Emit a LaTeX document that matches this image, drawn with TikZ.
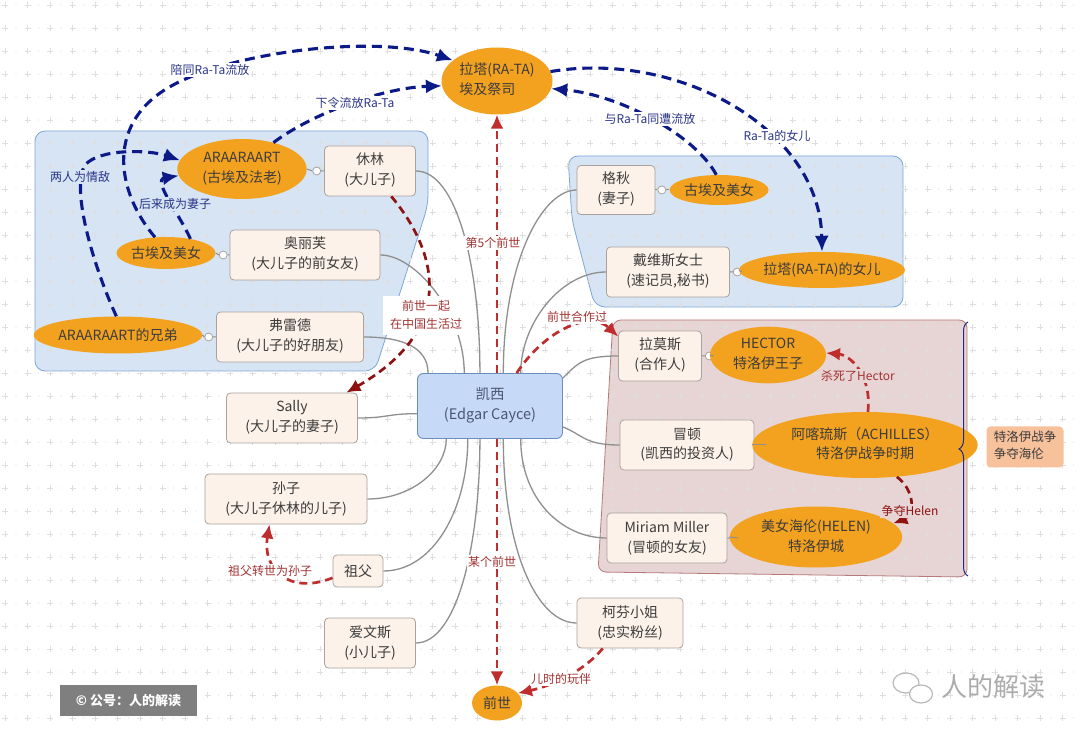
\documentclass[tikz,border=0pt]{standalone}
\usepackage{fontspec}
\setmainfont{Noto Sans CJK SC}
\usepackage{xcolor}
\usetikzlibrary{shapes,positioning,arrows.meta,decorations.pathreplacing}

\definecolor{ovalc}{HTML}{F3A21F}
\definecolor{topicfill}{HTML}{FDF2E9}
\definecolor{topicline}{HTML}{A9A29D}
\definecolor{nodetext}{HTML}{3C3C3C}
\definecolor{centerfill}{HTML}{C6DAF7}
\definecolor{centerline}{HTML}{6C8EBF}
\definecolor{centertext}{HTML}{4A5670}
\definecolor{bluegrp}{HTML}{D6E4F4}
\definecolor{bluegrpline}{HTML}{7EA6D6}
\definecolor{redgrp}{HTML}{E7D4D4}
\definecolor{redgrpline}{HTML}{B77A7A}
\definecolor{navyc}{HTML}{0C1A88}
\definecolor{navytxt}{HTML}{2B3487}
\definecolor{redc}{HTML}{BE2E2E}
\definecolor{darkredc}{HTML}{8E1212}
\definecolor{redtxt}{HTML}{A33232}
\definecolor{branchc}{HTML}{8F8F8F}
\definecolor{gridc}{HTML}{DEDEDE}
\definecolor{summaryc}{HTML}{F7C19B}
\definecolor{markc}{HTML}{7F7F7F}
\definecolor{bracec}{HTML}{1F2A8A}

\begin{document}
\begin{tikzpicture}[x=1pt, y=-1pt,
    every node/.style={text=nodetext},
    topic/.style={rectangle, draw=topicline, line width=0.8pt, fill=topicfill, rounded corners=4pt, inner sep=0pt, minimum height=50pt, font=\fontsize{14}{20}\selectfont},
    oval/.style={ellipse, fill=ovalc, inner sep=0pt, font=\fontsize{14}{20}\selectfont},
    knob/.style={circle, draw=topicline, fill=white, line width=0.8pt, minimum size=8pt, inner sep=0pt},
    branch/.style={draw=branchc, line width=1.3pt},
    knobline/.style={draw=branchc, line width=1pt},
    navyrel/.style={draw=navyc, line width=3.1pt, dash pattern=on 10pt off 6pt, -{Latex[length=16pt,width=14pt]}},
    redrel/.style={draw=redc, line width=2.7pt, dash pattern=on 8pt off 5pt, -{Latex[length=14pt,width=13pt]}},
    darkrel/.style={redrel, draw=darkredc},
    bluelbl/.style={text=navytxt, font=\fontsize{12}{18}\selectfont, fill=white, inner sep=1.5pt},
    redlbl/.style={text=redtxt, font=\fontsize{12}{18}\selectfont, fill=white, inner sep=1.5pt},
]
    \useasboundingbox (0,0) rectangle (1080,735);
    \fill[white] (0,0) rectangle (1080,735);

    \filldraw[fill=bluegrp, draw=bluegrpline, line width=0.8pt, rounded corners=10pt] (35,131) -- (428,131) -- (428,205) -- (375,371) -- (35,371) -- cycle;
    \filldraw[fill=bluegrp, draw=bluegrpline, line width=0.8pt, rounded corners=10pt] (568,156) -- (903,156) -- (903,307) -- (595,307) -- (572,220) -- cycle;
    \filldraw[fill=redgrp, draw=redgrpline, line width=0.8pt, rounded corners=8pt] (613,320) -- (967,320) -- (967,577) -- (598,572) -- cycle;

    \foreach \gx in {0,...,48} \foreach \gy in {0,...,32} {
        \draw[gridc, line width=0.6pt] (\gx*22.5+5,\gy*23+5) +(-3,0) -- +(3,0) +(0,-3) -- +(0,3);
        \fill[gridc] (\gx*22.5+16,\gy*23+5) circle (0.7);
    }

    \node[oval, minimum width=111pt, minimum height=67pt] (rata) at (497,81) {\begin{tabular}{@{}l@{}}拉塔(RA-TA)\\ 埃及祭司\end{tabular}};

    \node[oval, minimum width=124pt, minimum height=60pt] (araa) at (242,169) {\begin{tabular}{c}ARAARAART\\ (古埃及法老)\end{tabular}};
    \node[topic, minimum width=91pt] (xiulin) at (370,171) {\begin{tabular}{c}休林\\ (大儿子)\end{tabular}};
    \node[knob, left=3pt of xiulin] (k1) {};
    \node[oval, minimum width=92pt, minimum height=32pt] (beautyL) at (166,253) {古埃及美女};
    \node[topic, minimum width=150pt] (aolifu) at (305,255) {\begin{tabular}{c}奥丽芙\\ (大儿子的前女友)\end{tabular}};
    \node[knob, left=2pt of aolifu] (k2) {};
    \node[oval, minimum width=153pt, minimum height=37pt] (brother) at (118,335) {ARAARAART的兄弟};
    \node[topic, minimum width=147pt] (fred) at (290,337) {\begin{tabular}{c}弗雷德\\ (大儿子的好朋友)\end{tabular}};
    \node[knob, left=3pt of fred] (k3) {};

    \node[topic, minimum width=131pt] (sally) at (292,418) {\begin{tabular}{c}Sally\\ (大儿子的妻子)\end{tabular}};
    \node[topic, minimum width=162pt] (sunzi) at (286,499) {\begin{tabular}{c}孙子\\ (大儿子休林的儿子)\end{tabular}};
    \node[topic, minimum width=50pt, minimum height=32pt] (zufu) at (358,571) {祖父};
    \node[topic, minimum width=91pt] (aiwensi) at (370,643) {\begin{tabular}{c}爱文斯\\ (小儿子)\end{tabular}};

    \node[rectangle, rounded corners=6pt, draw=centerline, fill=centerfill, line width=0.9pt, minimum width=145pt, minimum height=65pt, font=\fontsize{14.5}{20}\selectfont, text=centertext] (cayce) at (490,406) {\begin{tabular}{c}凯西\\ (Edgar Cayce)\end{tabular}};
    \node[oval, minimum width=50pt, minimum height=35pt] (qianshi) at (497,703) {前世};
    \node[topic, minimum width=106pt] (kefen) at (630,623) {\begin{tabular}{c}柯芬小姐\\ (忠实粉丝)\end{tabular}};

    \node[topic, minimum width=78pt, minimum height=49pt] (gechiu) at (616,190) {\begin{tabular}{c}格秋\\ (妻子)\end{tabular}};
    \node[knob, right=2pt of gechiu] (k4) {};
    \node[oval, minimum width=88pt, minimum height=30pt] (beautyR) at (719,190) {古埃及美女};
    \node[topic, minimum width=123pt] (davis) at (668,272) {\begin{tabular}{c}戴维斯女士\\ (速记员,秘书)\end{tabular}};
    \node[knob, right=3pt of davis] (k5) {};
    \node[oval, minimum width=144pt, minimum height=36pt] (daughter) at (822,270) {拉塔(RA-TA)的女儿};

    \node[topic, minimum width=83pt] (lamos) at (660,356) {\begin{tabular}{c}拉莫斯\\ (合作人)\end{tabular}};
    \node[knob, right=3pt of lamos] (k6) {};
    \node[oval, minimum width=92pt, minimum height=54pt] (hector) at (768,355) {\begin{tabular}{c}HECTOR\\ 特洛伊王子\end{tabular}};
    \node[topic, minimum width=134pt] (maodun) at (687,445) {\begin{tabular}{c}冒顿\\ (凯西的投资人)\end{tabular}};
    \node[knob, right=3pt of maodun] (k7) {};
    \node[oval, minimum width=184pt, minimum height=66pt] (achilles) at (865,445) {\begin{tabular}{c}阿喀琉斯（ACHILLES）\\ 特洛伊战争时期\end{tabular}};
    \node[topic, minimum width=120pt] (miriam) at (667,538) {\begin{tabular}{c}Miriam Miller\\ (冒顿的女友)\end{tabular}};
    \node[knob, right=2pt of miriam] (k8) {};
    \node[oval, minimum width=141pt, minimum height=61pt] (helen) at (816,537) {\begin{tabular}{c}美女海伦(HELEN)\\ 特洛伊城\end{tabular}};

    \node[rectangle, rounded corners=4pt, fill=summaryc, minimum width=77pt, minimum height=41pt, inner sep=0pt, font=\fontsize{12.5}{17}\selectfont] (summary) at (1025,447) {\begin{tabular}{@{}l@{}}特洛伊战争\\ 争夺海伦\end{tabular}};
    \coordinate (bracetop) at (968,322);
    \coordinate (bracebot) at (968,576);
    \draw[bracec, line width=1pt, decorate, decoration={brace, mirror, amplitude=9pt}] (bracetop) -- (bracebot);

    \draw[knobline] (araa.east) -- (k1.west) (k1.east) -- (xiulin.west);
    \draw[knobline] (beautyL.east) -- (k2.west) (k2.east) -- (aolifu.west);
    \draw[knobline] (brother.east) -- (k3.west) (k3.east) -- (fred.west);
    \draw[knobline] (gechiu.east) -- (k4.west) (k4.east) -- (beautyR.west);
    \draw[knobline] (davis.east) -- (k5.west) (k5.east) -- (daughter.west);
    \draw[knobline] (lamos.east) -- (k6.west) (k6.east) -- (hector.west);
    \draw[knobline] (maodun.east) -- (k7.west) (k7.east) -- (achilles.west);
    \draw[knobline] (miriam.east) -- (k8.west) (k8.east) -- (helen.west);

    \draw[branch] (xiulin.east) .. controls +(40,0) and +(0,-110) .. (cayce.107);
    \draw[branch] (aolifu.east) .. controls +(35,0) and +(0,-60) .. (cayce.128);
    \draw[branch] (fred.east) .. controls +(40,0) and +(0,-25) .. (cayce.152);
    \draw[branch] (sally.east) .. controls +(30,0) and +(-30,0) .. (cayce.186);
    \draw[branch] (sunzi.east) .. controls +(45,0) and +(0,30) .. (cayce.217);
    \draw[branch] (zufu.east) .. controls +(50,0) and +(0,70) .. (cayce.236);
    \draw[branch] (aiwensi.east) .. controls +(40,0) and +(0,110) .. (cayce.253);
    \draw[branch] (gechiu.west) .. controls +(-35,0) and +(0,-110) .. (cayce.68);
    \draw[branch] (davis.west) .. controls +(-45,0) and +(0,-50) .. (cayce.47);
    \draw[branch] (lamos.west) .. controls +(-35,0) and +(15,-15) .. (cayce.21);
    \draw[branch] (maodun.west) .. controls +(-35,0) and +(20,8) .. (cayce.-16);
    \draw[branch] (miriam.west) .. controls +(-45,0) and +(0,60) .. (cayce.-47);
    \draw[branch] (kefen.west) .. controls +(-40,0) and +(0,110) .. (cayce.-68);

    \draw[navyrel] (beautyL.125) .. controls (115,190) and (105,120) .. (175,84) .. controls (240,50) and (380,35) .. (rata.155);
    \draw[navyrel] (araa.40) .. controls (310,115) and (380,88) .. (rata.185);
    \draw[navyrel] (brother.95) .. controls (95,270) and (70,190) .. (85,165) .. controls (100,148) and (150,150) .. (araa.172);
    \draw[navyrel] (beautyL.30) .. controls (180,215) and (152,180) .. (araa.186);
    \draw[navyrel] (beautyR.100) .. controls (695,135) and (620,95) .. (rata.-8);
    \draw[navyrel] (rata.10) .. controls (680,50) and (820,130) .. (daughter.north);

    \draw[redrel] (rata.south |- cayce.north) -- (rata.south);
    \draw[redrel] (qianshi.north |- cayce.south) -- (qianshi.north);
    \draw[darkrel] (xiulin.-50) .. controls (440,255) and (455,330) .. (sally.25);
    \draw[redrel] (cayce.51) .. controls (545,330) and (590,310) .. (lamos.155);
    \draw[redrel] (zufu.195) .. controls (290,595) and (262,570) .. (sunzi.237);
    \draw[redrel] (kefen.223) .. controls (585,670) and (555,685) .. (qianshi.25);
    \draw[redrel] (achilles.85) .. controls (872,375) and (850,355) .. (hector.2);
    \draw[darkrel] (achilles.-45) .. controls (915,490) and (915,515) .. (helen.10);

    \node[bluelbl] (lblwith) at (210,70) {陪同Ra-Ta流放};
    \node[bluelbl] (lblorder) at (355,103) {下令流放Ra-Ta};
    \node[bluelbl, fill=bluegrp] (lblrival) at (80,177) {两人为情敌};
    \node[bluelbl, fill=bluegrp] (lblwife) at (175,204) {后来成为妻子};
    \node[bluelbl] (lblexile) at (650,119) {与Ra-Ta同遭流放};
    \node[bluelbl] (lbldaughter) at (777,136) {Ra-Ta的女儿};
    \node[redlbl] (lblfifth) at (493,243) {第5个前世};
    \node[redlbl] (lblsome) at (492,562) {某个前世};
    \node[redlbl] (lblchina) at (426,316) {\begin{tabular}{c}前世一起\\ 在中国生活过\end{tabular}};
    \node[redlbl] (lblwork) at (577,317) {前世合作过};
    \node[redlbl] (lblreborn) at (270,571) {祖父转世为孙子};
    \node[redlbl] (lblplay) at (561,679) {儿时的玩伴};
    \node[redlbl, fill=redgrp] (lblkill) at (858,376) {杀死了Hector};
    \node[redlbl, fill=redgrp, text=darkredc] (lblfight) at (910,511) {争夺Helen};

    \node[fill=markc, text=white, minimum width=137pt, minimum height=31pt, inner sep=0pt, font=\bfseries\fontsize{13}{15}\selectfont] (mark) at (128.5,700.5) {© 公号：人的解读};
    \node[ellipse, draw=gray!55, line width=1.2pt, fill=white, minimum width=26pt, minimum height=20pt] (logoa) at (906,683) {};
    \node[ellipse, draw=gray!55, line width=1.2pt, fill=white, minimum width=23pt, minimum height=18pt] (logob) at (921,694) {};
    \node[text=gray!65, font=\fontsize{26}{30}\selectfont] (wechat) at (993,687) {人的解读};
\end{tikzpicture}
\end{document}
